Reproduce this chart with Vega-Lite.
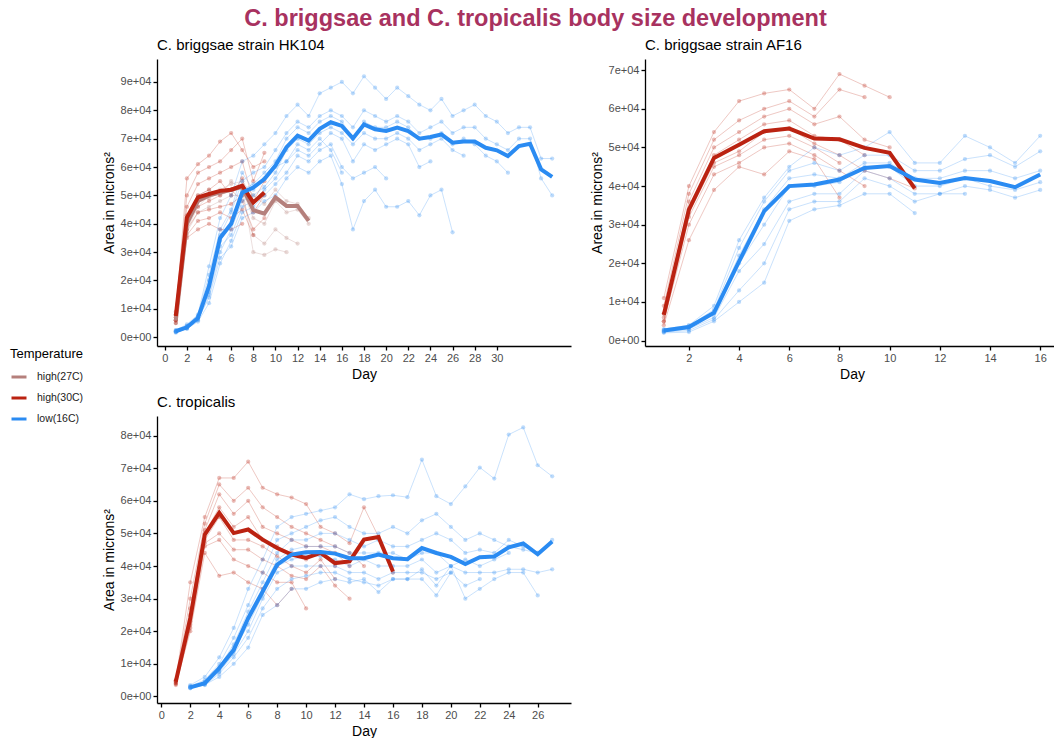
{
"$schema": "https://vega.github.io/schema/vega-lite/v6.json",
"padding": {"left": 10, "top": 6, "right": 0, "bottom": 5},
"title": {"text": "C. briggsae and C. tropicalis body size development", "anchor": "middle", "dx": 1, "fontSize": 23.5, "fontWeight": "bold", "color": "#A8325F", "font": "Liberation Sans", "offset": 8},
"config": {
  "font": "Liberation Sans",
  "view": {"stroke": null},
  "axis": {"grid": false, "domainColor": "#000", "domainWidth": 1.3, "tickColor": "#000", "tickWidth": 1.3, "tickSize": 4, "labelColor": "#4D4D4D", "labelFontSize": 11, "labelPadding": 2, "titleFontSize": 14, "titleFontWeight": "normal", "titleColor": "#000", "titlePadding": 4, "labelFont": "Liberation Sans", "titleFont": "Liberation Sans"},
  "legend": {"titleFontSize": 13, "titleFontWeight": "normal", "titleColor": "#000", "labelFontSize": 10.5, "labelColor": "#222", "titleFont": "Liberation Sans", "labelFont": "Liberation Sans"}
},
"datasets": {
"hk": [
{"g":27,"w":0,"d":1,"a":6},{"g":27,"w":0,"d":2,"a":40},{"g":27,"w":0,"d":3,"a":48},{"g":27,"w":0,"d":4,"a":50},{"g":27,"w":0,"d":5,"a":51},{"g":27,"w":0,"d":6,"a":52},{"g":27,"w":0,"d":7,"a":53},{"g":27,"w":0,"d":8,"a":44.8},{"g":27,"w":0,"d":9,"a":43.6},{"g":27,"w":0,"d":10,"a":49.3},{"g":27,"w":0,"d":11,"a":46.3},{"g":27,"w":0,"d":12,"a":46.3},{"g":27,"w":0,"d":13,"a":41},
{"g":30,"w":0,"d":1,"a":7.5},{"g":30,"w":0,"d":2,"a":42.2},{"g":30,"w":0,"d":3,"a":49.3},{"g":30,"w":0,"d":4,"a":50.5},{"g":30,"w":0,"d":5,"a":51.6},{"g":30,"w":0,"d":6,"a":52},{"g":30,"w":0,"d":7,"a":53.4},{"g":30,"w":0,"d":8,"a":47.5},{"g":30,"w":0,"d":9,"a":51},
{"g":16,"w":0,"d":1,"a":2.1},{"g":16,"w":0,"d":2,"a":3.5},{"g":16,"w":0,"d":3,"a":6.8},{"g":16,"w":0,"d":4,"a":18},{"g":16,"w":0,"d":5,"a":35},{"g":16,"w":0,"d":6,"a":40},{"g":16,"w":0,"d":7,"a":51},{"g":16,"w":0,"d":8,"a":52.8},{"g":16,"w":0,"d":9,"a":55.8},{"g":16,"w":0,"d":10,"a":60.5},{"g":16,"w":0,"d":11,"a":67},{"g":16,"w":0,"d":12,"a":71.1},{"g":16,"w":0,"d":13,"a":69.3},{"g":16,"w":0,"d":14,"a":73.5},{"g":16,"w":0,"d":15,"a":75.8},{"g":16,"w":0,"d":16,"a":74.5},{"g":16,"w":0,"d":17,"a":70.1},{"g":16,"w":0,"d":18,"a":75},{"g":16,"w":0,"d":19,"a":73.3},{"g":16,"w":0,"d":20,"a":72.7},{"g":16,"w":0,"d":21,"a":73.9},{"g":16,"w":0,"d":22,"a":72.7},{"g":16,"w":0,"d":23,"a":70},{"g":16,"w":0,"d":24,"a":70.6},{"g":16,"w":0,"d":25,"a":71.5},{"g":16,"w":0,"d":26,"a":68.6},{"g":16,"w":0,"d":27,"a":69},{"g":16,"w":0,"d":28,"a":69},{"g":16,"w":0,"d":29,"a":66.8},{"g":16,"w":0,"d":30,"a":65.9},{"g":16,"w":0,"d":31,"a":63.9},{"g":16,"w":0,"d":32,"a":67.4},{"g":16,"w":0,"d":33,"a":68.2},{"g":16,"w":0,"d":34,"a":59.2},{"g":16,"w":0,"d":35,"a":56.5},
{"g":27,"w":9,"d":1,"a":5},{"g":27,"w":9,"d":2,"a":38},{"g":27,"w":9,"d":3,"a":46},{"g":27,"w":9,"d":4,"a":50},{"g":27,"w":9,"d":5,"a":52},{"g":27,"w":9,"d":6,"a":54},{"g":27,"w":9,"d":7,"a":55},{"g":27,"w":9,"d":8,"a":50},{"g":27,"w":9,"d":9,"a":47},{"g":27,"w":9,"d":10,"a":52},{"g":27,"w":9,"d":11,"a":48},{"g":27,"w":9,"d":12,"a":47},{"g":27,"w":9,"d":13,"a":42},
{"g":27,"w":10,"d":1,"a":6},{"g":27,"w":10,"d":2,"a":42},{"g":27,"w":10,"d":3,"a":50},{"g":27,"w":10,"d":4,"a":52},{"g":27,"w":10,"d":5,"a":50},{"g":27,"w":10,"d":6,"a":55},{"g":27,"w":10,"d":7,"a":52},{"g":27,"w":10,"d":8,"a":42},{"g":27,"w":10,"d":9,"a":40},{"g":27,"w":10,"d":10,"a":48},{"g":27,"w":10,"d":11,"a":44},{"g":27,"w":10,"d":12,"a":45},{"g":27,"w":10,"d":13,"a":40},
{"g":27,"w":11,"d":1,"a":5},{"g":27,"w":11,"d":2,"a":37},{"g":27,"w":11,"d":3,"a":44},{"g":27,"w":11,"d":4,"a":46},{"g":27,"w":11,"d":5,"a":48},{"g":27,"w":11,"d":6,"a":50},{"g":27,"w":11,"d":7,"a":50},{"g":27,"w":11,"d":8,"a":36},{"g":27,"w":11,"d":9,"a":33},{"g":27,"w":11,"d":10,"a":38},{"g":27,"w":11,"d":11,"a":35},{"g":27,"w":11,"d":12,"a":33},
{"g":27,"w":12,"d":1,"a":6},{"g":27,"w":12,"d":2,"a":40},{"g":27,"w":12,"d":3,"a":48},{"g":27,"w":12,"d":4,"a":49},{"g":27,"w":12,"d":5,"a":51},{"g":27,"w":12,"d":6,"a":52},{"g":27,"w":12,"d":7,"a":53},{"g":27,"w":12,"d":8,"a":30},{"g":27,"w":12,"d":9,"a":29},{"g":27,"w":12,"d":10,"a":31},{"g":27,"w":12,"d":11,"a":30},
{"g":30,"w":1,"d":1,"a":8},{"g":30,"w":1,"d":2,"a":56},{"g":30,"w":1,"d":3,"a":61},{"g":30,"w":1,"d":4,"a":64},{"g":30,"w":1,"d":5,"a":69},{"g":30,"w":1,"d":6,"a":72},{"g":30,"w":1,"d":7,"a":66},{"g":30,"w":1,"d":8,"a":60},{"g":30,"w":1,"d":9,"a":62},
{"g":30,"w":2,"d":1,"a":9},{"g":30,"w":2,"d":2,"a":50},{"g":30,"w":2,"d":3,"a":58},{"g":30,"w":2,"d":4,"a":60},{"g":30,"w":2,"d":5,"a":62},{"g":30,"w":2,"d":6,"a":66},{"g":30,"w":2,"d":7,"a":70},{"g":30,"w":2,"d":8,"a":55},{"g":30,"w":2,"d":9,"a":65},
{"g":30,"w":3,"d":1,"a":7},{"g":30,"w":3,"d":2,"a":46},{"g":30,"w":3,"d":3,"a":54},{"g":30,"w":3,"d":4,"a":56},{"g":30,"w":3,"d":5,"a":58},{"g":30,"w":3,"d":6,"a":60},{"g":30,"w":3,"d":7,"a":62},{"g":30,"w":3,"d":8,"a":48},{"g":30,"w":3,"d":9,"a":55},
{"g":30,"w":4,"d":1,"a":6},{"g":30,"w":4,"d":2,"a":43},{"g":30,"w":4,"d":3,"a":50},{"g":30,"w":4,"d":4,"a":52},{"g":30,"w":4,"d":5,"a":55},{"g":30,"w":4,"d":6,"a":50},{"g":30,"w":4,"d":7,"a":56},{"g":30,"w":4,"d":8,"a":44},{"g":30,"w":4,"d":9,"a":50},
{"g":30,"w":5,"d":1,"a":8},{"g":30,"w":5,"d":2,"a":40},{"g":30,"w":5,"d":3,"a":46},{"g":30,"w":5,"d":4,"a":48},{"g":30,"w":5,"d":5,"a":50},{"g":30,"w":5,"d":6,"a":52},{"g":30,"w":5,"d":7,"a":48},{"g":30,"w":5,"d":8,"a":38},{"g":30,"w":5,"d":9,"a":42},
{"g":30,"w":6,"d":1,"a":5},{"g":30,"w":6,"d":2,"a":38},{"g":30,"w":6,"d":3,"a":44},{"g":30,"w":6,"d":4,"a":45},{"g":30,"w":6,"d":5,"a":46},{"g":30,"w":6,"d":6,"a":47},{"g":30,"w":6,"d":7,"a":50},
{"g":30,"w":7,"d":1,"a":7},{"g":30,"w":7,"d":2,"a":36},{"g":30,"w":7,"d":3,"a":41},{"g":30,"w":7,"d":4,"a":42},{"g":30,"w":7,"d":5,"a":44},{"g":30,"w":7,"d":6,"a":42},{"g":30,"w":7,"d":7,"a":45},{"g":30,"w":7,"d":8,"a":36},
{"g":30,"w":8,"d":1,"a":6},{"g":30,"w":8,"d":2,"a":35},{"g":30,"w":8,"d":3,"a":38},{"g":30,"w":8,"d":4,"a":40},{"g":30,"w":8,"d":5,"a":38},{"g":30,"w":8,"d":6,"a":38},{"g":30,"w":8,"d":7,"a":40},
{"g":16,"w":13,"d":1,"a":2.5},{"g":16,"w":13,"d":2,"a":4.5},{"g":16,"w":13,"d":3,"a":8},{"g":16,"w":13,"d":4,"a":25},{"g":16,"w":13,"d":5,"a":42},{"g":16,"w":13,"d":6,"a":50},{"g":16,"w":13,"d":7,"a":62},{"g":16,"w":13,"d":8,"a":64},{"g":16,"w":13,"d":9,"a":68},{"g":16,"w":13,"d":10,"a":72},{"g":16,"w":13,"d":11,"a":78},{"g":16,"w":13,"d":12,"a":82},{"g":16,"w":13,"d":13,"a":78},{"g":16,"w":13,"d":14,"a":86},{"g":16,"w":13,"d":15,"a":88},{"g":16,"w":13,"d":16,"a":90},{"g":16,"w":13,"d":17,"a":86},{"g":16,"w":13,"d":18,"a":92},{"g":16,"w":13,"d":19,"a":88},{"g":16,"w":13,"d":20,"a":84},{"g":16,"w":13,"d":21,"a":88},{"g":16,"w":13,"d":22,"a":85},{"g":16,"w":13,"d":23,"a":82},{"g":16,"w":13,"d":24,"a":80},{"g":16,"w":13,"d":25,"a":84},{"g":16,"w":13,"d":26,"a":78},{"g":16,"w":13,"d":27,"a":80},{"g":16,"w":13,"d":28,"a":82},{"g":16,"w":13,"d":29,"a":78},{"g":16,"w":13,"d":30,"a":76},{"g":16,"w":13,"d":31,"a":72},{"g":16,"w":13,"d":32,"a":74},{"g":16,"w":13,"d":33,"a":74},{"g":16,"w":13,"d":34,"a":63},{"g":16,"w":13,"d":35,"a":63},
{"g":16,"w":14,"d":1,"a":2},{"g":16,"w":14,"d":2,"a":3.5},{"g":16,"w":14,"d":3,"a":7},{"g":16,"w":14,"d":4,"a":20},{"g":16,"w":14,"d":5,"a":36},{"g":16,"w":14,"d":6,"a":44},{"g":16,"w":14,"d":7,"a":55},{"g":16,"w":14,"d":8,"a":58},{"g":16,"w":14,"d":9,"a":60},{"g":16,"w":14,"d":10,"a":66},{"g":16,"w":14,"d":11,"a":72},{"g":16,"w":14,"d":12,"a":76},{"g":16,"w":14,"d":13,"a":74},{"g":16,"w":14,"d":14,"a":78},{"g":16,"w":14,"d":15,"a":80},{"g":16,"w":14,"d":16,"a":78},{"g":16,"w":14,"d":17,"a":74},{"g":16,"w":14,"d":18,"a":80},{"g":16,"w":14,"d":19,"a":78},{"g":16,"w":14,"d":20,"a":76},{"g":16,"w":14,"d":21,"a":78},{"g":16,"w":14,"d":22,"a":76},{"g":16,"w":14,"d":23,"a":72},{"g":16,"w":14,"d":24,"a":74},{"g":16,"w":14,"d":25,"a":76},{"g":16,"w":14,"d":26,"a":72},{"g":16,"w":14,"d":27,"a":74},{"g":16,"w":14,"d":28,"a":74},{"g":16,"w":14,"d":29,"a":70},{"g":16,"w":14,"d":30,"a":68},{"g":16,"w":14,"d":31,"a":66},{"g":16,"w":14,"d":32,"a":70},{"g":16,"w":14,"d":33,"a":70},{"g":16,"w":14,"d":34,"a":56},{"g":16,"w":14,"d":35,"a":50},
{"g":16,"w":15,"d":1,"a":2.2},{"g":16,"w":15,"d":2,"a":3.8},{"g":16,"w":15,"d":3,"a":7},{"g":16,"w":15,"d":4,"a":18},{"g":16,"w":15,"d":5,"a":34},{"g":16,"w":15,"d":6,"a":40},{"g":16,"w":15,"d":7,"a":52},{"g":16,"w":15,"d":8,"a":54},{"g":16,"w":15,"d":9,"a":58},{"g":16,"w":15,"d":10,"a":62},{"g":16,"w":15,"d":11,"a":70},{"g":16,"w":15,"d":12,"a":74},{"g":16,"w":15,"d":13,"a":72},{"g":16,"w":15,"d":14,"a":76},{"g":16,"w":15,"d":15,"a":78},{"g":16,"w":15,"d":16,"a":76},{"g":16,"w":15,"d":17,"a":70},{"g":16,"w":15,"d":18,"a":76},{"g":16,"w":15,"d":19,"a":74},{"g":16,"w":15,"d":20,"a":74},{"g":16,"w":15,"d":21,"a":76},{"g":16,"w":15,"d":22,"a":74},{"g":16,"w":15,"d":23,"a":70},{"g":16,"w":15,"d":24,"a":70},{"g":16,"w":15,"d":25,"a":72},{"g":16,"w":15,"d":26,"a":68},{"g":16,"w":15,"d":27,"a":70},{"g":16,"w":15,"d":28,"a":68},{"g":16,"w":15,"d":29,"a":64},{"g":16,"w":15,"d":30,"a":62},{"g":16,"w":15,"d":31,"a":58},
{"g":16,"w":16,"d":1,"a":1.8},{"g":16,"w":16,"d":2,"a":3},{"g":16,"w":16,"d":3,"a":6},{"g":16,"w":16,"d":4,"a":15},{"g":16,"w":16,"d":5,"a":30},{"g":16,"w":16,"d":6,"a":38},{"g":16,"w":16,"d":7,"a":48},{"g":16,"w":16,"d":8,"a":50},{"g":16,"w":16,"d":9,"a":53},{"g":16,"w":16,"d":10,"a":58},{"g":16,"w":16,"d":11,"a":66},{"g":16,"w":16,"d":12,"a":70},{"g":16,"w":16,"d":13,"a":68},{"g":16,"w":16,"d":14,"a":72},{"g":16,"w":16,"d":15,"a":74},{"g":16,"w":16,"d":16,"a":72},{"g":16,"w":16,"d":17,"a":68},{"g":16,"w":16,"d":18,"a":72},{"g":16,"w":16,"d":19,"a":70},{"g":16,"w":16,"d":20,"a":70},{"g":16,"w":16,"d":21,"a":72},{"g":16,"w":16,"d":22,"a":70},{"g":16,"w":16,"d":23,"a":66},{"g":16,"w":16,"d":24,"a":68},{"g":16,"w":16,"d":25,"a":70},{"g":16,"w":16,"d":26,"a":66},{"g":16,"w":16,"d":27,"a":64},
{"g":16,"w":17,"d":1,"a":2},{"g":16,"w":17,"d":2,"a":3.2},{"g":16,"w":17,"d":3,"a":6.5},{"g":16,"w":17,"d":4,"a":16},{"g":16,"w":17,"d":5,"a":32},{"g":16,"w":17,"d":6,"a":36},{"g":16,"w":17,"d":7,"a":46},{"g":16,"w":17,"d":8,"a":48},{"g":16,"w":17,"d":9,"a":52},{"g":16,"w":17,"d":10,"a":56},{"g":16,"w":17,"d":11,"a":62},{"g":16,"w":17,"d":12,"a":66},{"g":16,"w":17,"d":13,"a":64},{"g":16,"w":17,"d":14,"a":68},{"g":16,"w":17,"d":15,"a":72},{"g":16,"w":17,"d":16,"a":70},{"g":16,"w":17,"d":17,"a":62},{"g":16,"w":17,"d":18,"a":68},{"g":16,"w":17,"d":19,"a":66},{"g":16,"w":17,"d":20,"a":68},{"g":16,"w":17,"d":21,"a":70},{"g":16,"w":17,"d":22,"a":68},{"g":16,"w":17,"d":23,"a":60},{"g":16,"w":17,"d":24,"a":62},
{"g":16,"w":18,"d":1,"a":1.6},{"g":16,"w":18,"d":2,"a":3},{"g":16,"w":18,"d":3,"a":5.5},{"g":16,"w":18,"d":4,"a":12},{"g":16,"w":18,"d":5,"a":26},{"g":16,"w":18,"d":6,"a":34},{"g":16,"w":18,"d":7,"a":44},{"g":16,"w":18,"d":8,"a":46},{"g":16,"w":18,"d":9,"a":50},{"g":16,"w":18,"d":10,"a":54},{"g":16,"w":18,"d":11,"a":58},{"g":16,"w":18,"d":12,"a":64},{"g":16,"w":18,"d":13,"a":62},{"g":16,"w":18,"d":14,"a":66},{"g":16,"w":18,"d":15,"a":68},{"g":16,"w":18,"d":16,"a":60},{"g":16,"w":18,"d":17,"a":56},{"g":16,"w":18,"d":18,"a":58},{"g":16,"w":18,"d":19,"a":60},{"g":16,"w":18,"d":20,"a":56},
{"g":16,"w":19,"d":1,"a":2.4},{"g":16,"w":19,"d":2,"a":4},{"g":16,"w":19,"d":3,"a":7.5},{"g":16,"w":19,"d":4,"a":22},{"g":16,"w":19,"d":5,"a":38},{"g":16,"w":19,"d":6,"a":45},{"g":16,"w":19,"d":7,"a":58},{"g":16,"w":19,"d":8,"a":52},{"g":16,"w":19,"d":9,"a":56},{"g":16,"w":19,"d":10,"a":60},{"g":16,"w":19,"d":11,"a":62},{"g":16,"w":19,"d":12,"a":68},{"g":16,"w":19,"d":13,"a":66},{"g":16,"w":19,"d":14,"a":70},{"g":16,"w":19,"d":15,"a":66},{"g":16,"w":19,"d":16,"a":58},
{"g":16,"w":20,"d":1,"a":1.9},{"g":16,"w":20,"d":2,"a":3.3},{"g":16,"w":20,"d":3,"a":6.2},{"g":16,"w":20,"d":4,"a":14},{"g":16,"w":20,"d":5,"a":28},{"g":16,"w":20,"d":6,"a":32},{"g":16,"w":20,"d":7,"a":42},{"g":16,"w":20,"d":8,"a":44},{"g":16,"w":20,"d":9,"a":48},{"g":16,"w":20,"d":10,"a":50},{"g":16,"w":20,"d":11,"a":56},{"g":16,"w":20,"d":12,"a":60},{"g":16,"w":20,"d":13,"a":58},{"g":16,"w":20,"d":14,"a":62},{"g":16,"w":20,"d":15,"a":64},{"g":16,"w":20,"d":16,"a":54},{"g":16,"w":20,"d":17,"a":38},{"g":16,"w":20,"d":18,"a":48},{"g":16,"w":20,"d":19,"a":52},{"g":16,"w":20,"d":20,"a":46},{"g":16,"w":20,"d":21,"a":46},{"g":16,"w":20,"d":22,"a":48},{"g":16,"w":20,"d":23,"a":43},{"g":16,"w":20,"d":24,"a":50},{"g":16,"w":20,"d":25,"a":52},{"g":16,"w":20,"d":26,"a":37}
],
"af": [
{"g":30,"w":0,"d":1,"a":6.7},{"g":30,"w":0,"d":2,"a":33.9},{"g":30,"w":0,"d":3,"a":47.3},{"g":30,"w":0,"d":4,"a":50.7},{"g":30,"w":0,"d":5,"a":54.2},{"g":30,"w":0,"d":6,"a":54.9},{"g":30,"w":0,"d":7,"a":52.3},{"g":30,"w":0,"d":8,"a":52.1},{"g":30,"w":0,"d":9,"a":49.9},{"g":30,"w":0,"d":10,"a":48.6},{"g":30,"w":0,"d":11,"a":39.4},
{"g":16,"w":0,"d":1,"a":2.6},{"g":16,"w":0,"d":2,"a":3.5},{"g":16,"w":0,"d":3,"a":7.2},{"g":16,"w":0,"d":4,"a":20.5},{"g":16,"w":0,"d":5,"a":33.5},{"g":16,"w":0,"d":6,"a":40},{"g":16,"w":0,"d":7,"a":40.4},{"g":16,"w":0,"d":8,"a":41.7},{"g":16,"w":0,"d":9,"a":44.7},{"g":16,"w":0,"d":10,"a":45.2},{"g":16,"w":0,"d":11,"a":41.7},{"g":16,"w":0,"d":12,"a":40.8},{"g":16,"w":0,"d":13,"a":42.1},{"g":16,"w":0,"d":14,"a":41.3},{"g":16,"w":0,"d":15,"a":39.7},{"g":16,"w":0,"d":16,"a":43},
{"g":30,"w":1,"d":1,"a":11},{"g":30,"w":1,"d":2,"a":40},{"g":30,"w":1,"d":3,"a":54},{"g":30,"w":1,"d":4,"a":62},{"g":30,"w":1,"d":5,"a":64},{"g":30,"w":1,"d":6,"a":65},{"g":30,"w":1,"d":7,"a":60},{"g":30,"w":1,"d":8,"a":69},{"g":30,"w":1,"d":9,"a":66},{"g":30,"w":1,"d":10,"a":63},
{"g":30,"w":2,"d":1,"a":9},{"g":30,"w":2,"d":2,"a":38},{"g":30,"w":2,"d":3,"a":52},{"g":30,"w":2,"d":4,"a":57},{"g":30,"w":2,"d":5,"a":60},{"g":30,"w":2,"d":6,"a":62},{"g":30,"w":2,"d":7,"a":58},{"g":30,"w":2,"d":8,"a":65},{"g":30,"w":2,"d":9,"a":63},
{"g":30,"w":3,"d":1,"a":7},{"g":30,"w":3,"d":2,"a":36},{"g":30,"w":3,"d":3,"a":50},{"g":30,"w":3,"d":4,"a":54},{"g":30,"w":3,"d":5,"a":58},{"g":30,"w":3,"d":6,"a":60},{"g":30,"w":3,"d":7,"a":56},{"g":30,"w":3,"d":8,"a":58},{"g":30,"w":3,"d":9,"a":52},{"g":30,"w":3,"d":10,"a":50},
{"g":30,"w":4,"d":1,"a":6},{"g":30,"w":4,"d":2,"a":34},{"g":30,"w":4,"d":3,"a":48},{"g":30,"w":4,"d":4,"a":52},{"g":30,"w":4,"d":5,"a":56},{"g":30,"w":4,"d":6,"a":57},{"g":30,"w":4,"d":7,"a":53},{"g":30,"w":4,"d":8,"a":52},{"g":30,"w":4,"d":9,"a":48},
{"g":30,"w":5,"d":1,"a":7},{"g":30,"w":5,"d":2,"a":33},{"g":30,"w":5,"d":3,"a":46},{"g":30,"w":5,"d":4,"a":49},{"g":30,"w":5,"d":5,"a":54},{"g":30,"w":5,"d":6,"a":55},{"g":30,"w":5,"d":7,"a":51},{"g":30,"w":5,"d":8,"a":48},{"g":30,"w":5,"d":9,"a":44},{"g":30,"w":5,"d":10,"a":42},{"g":30,"w":5,"d":11,"a":39.4},
{"g":30,"w":6,"d":1,"a":5},{"g":30,"w":6,"d":2,"a":32},{"g":30,"w":6,"d":3,"a":45},{"g":30,"w":6,"d":4,"a":48},{"g":30,"w":6,"d":5,"a":52},{"g":30,"w":6,"d":6,"a":53},{"g":30,"w":6,"d":7,"a":50},{"g":30,"w":6,"d":8,"a":46},
{"g":30,"w":7,"d":1,"a":5},{"g":30,"w":7,"d":2,"a":30},{"g":30,"w":7,"d":3,"a":43},{"g":30,"w":7,"d":4,"a":46},{"g":30,"w":7,"d":5,"a":50},{"g":30,"w":7,"d":6,"a":51},{"g":30,"w":7,"d":7,"a":48},{"g":30,"w":7,"d":8,"a":44},{"g":30,"w":7,"d":9,"a":40},
{"g":30,"w":8,"d":1,"a":4},{"g":30,"w":8,"d":2,"a":26},{"g":30,"w":8,"d":3,"a":39},{"g":30,"w":8,"d":4,"a":45},{"g":30,"w":8,"d":5,"a":43},{"g":30,"w":8,"d":6,"a":49},{"g":30,"w":8,"d":7,"a":47},{"g":30,"w":8,"d":8,"a":37},
{"g":16,"w":9,"d":1,"a":3},{"g":16,"w":9,"d":2,"a":4},{"g":16,"w":9,"d":3,"a":9},{"g":16,"w":9,"d":4,"a":26},{"g":16,"w":9,"d":5,"a":37},{"g":16,"w":9,"d":6,"a":45},{"g":16,"w":9,"d":7,"a":50},{"g":16,"w":9,"d":8,"a":48},{"g":16,"w":9,"d":9,"a":50},{"g":16,"w":9,"d":10,"a":54},{"g":16,"w":9,"d":11,"a":46},{"g":16,"w":9,"d":12,"a":46},{"g":16,"w":9,"d":13,"a":53},{"g":16,"w":9,"d":14,"a":50},{"g":16,"w":9,"d":15,"a":46},{"g":16,"w":9,"d":16,"a":53},
{"g":16,"w":10,"d":1,"a":2.8},{"g":16,"w":10,"d":2,"a":3.8},{"g":16,"w":10,"d":3,"a":8},{"g":16,"w":10,"d":4,"a":24},{"g":16,"w":10,"d":5,"a":36},{"g":16,"w":10,"d":6,"a":44},{"g":16,"w":10,"d":7,"a":46},{"g":16,"w":10,"d":8,"a":44},{"g":16,"w":10,"d":9,"a":48},{"g":16,"w":10,"d":10,"a":48},{"g":16,"w":10,"d":11,"a":44},{"g":16,"w":10,"d":12,"a":44},{"g":16,"w":10,"d":13,"a":47},{"g":16,"w":10,"d":14,"a":48},{"g":16,"w":10,"d":15,"a":45},{"g":16,"w":10,"d":16,"a":49},
{"g":16,"w":11,"d":1,"a":2.6},{"g":16,"w":11,"d":2,"a":3.5},{"g":16,"w":11,"d":3,"a":7.5},{"g":16,"w":11,"d":4,"a":22},{"g":16,"w":11,"d":5,"a":34},{"g":16,"w":11,"d":6,"a":42},{"g":16,"w":11,"d":7,"a":43},{"g":16,"w":11,"d":8,"a":42},{"g":16,"w":11,"d":9,"a":46},{"g":16,"w":11,"d":10,"a":46},{"g":16,"w":11,"d":11,"a":42},{"g":16,"w":11,"d":12,"a":42},{"g":16,"w":11,"d":13,"a":44},{"g":16,"w":11,"d":14,"a":44},{"g":16,"w":11,"d":15,"a":42},{"g":16,"w":11,"d":16,"a":44},
{"g":16,"w":12,"d":1,"a":2.5},{"g":16,"w":12,"d":2,"a":3.2},{"g":16,"w":12,"d":3,"a":7},{"g":16,"w":12,"d":4,"a":20},{"g":16,"w":12,"d":5,"a":30},{"g":16,"w":12,"d":6,"a":40},{"g":16,"w":12,"d":7,"a":40},{"g":16,"w":12,"d":8,"a":41},{"g":16,"w":12,"d":9,"a":45},{"g":16,"w":12,"d":10,"a":45},{"g":16,"w":12,"d":11,"a":40},{"g":16,"w":12,"d":12,"a":40},{"g":16,"w":12,"d":13,"a":42},{"g":16,"w":12,"d":14,"a":40},{"g":16,"w":12,"d":15,"a":39},{"g":16,"w":12,"d":16,"a":41},
{"g":16,"w":13,"d":1,"a":2.3},{"g":16,"w":13,"d":2,"a":3},{"g":16,"w":13,"d":3,"a":6},{"g":16,"w":13,"d":4,"a":18},{"g":16,"w":13,"d":5,"a":25},{"g":16,"w":13,"d":6,"a":36},{"g":16,"w":13,"d":7,"a":38},{"g":16,"w":13,"d":8,"a":38},{"g":16,"w":13,"d":9,"a":44},{"g":16,"w":13,"d":10,"a":42},{"g":16,"w":13,"d":11,"a":38},{"g":16,"w":13,"d":12,"a":38},{"g":16,"w":13,"d":13,"a":40},{"g":16,"w":13,"d":14,"a":39},{"g":16,"w":13,"d":15,"a":37},{"g":16,"w":13,"d":16,"a":39},
{"g":16,"w":14,"d":1,"a":2.2},{"g":16,"w":14,"d":2,"a":2.6},{"g":16,"w":14,"d":3,"a":5.5},{"g":16,"w":14,"d":4,"a":13},{"g":16,"w":14,"d":5,"a":20},{"g":16,"w":14,"d":6,"a":34},{"g":16,"w":14,"d":7,"a":36},{"g":16,"w":14,"d":8,"a":36},{"g":16,"w":14,"d":9,"a":42},{"g":16,"w":14,"d":10,"a":40},{"g":16,"w":14,"d":11,"a":36},{"g":16,"w":14,"d":12,"a":38},{"g":16,"w":14,"d":13,"a":38},
{"g":16,"w":15,"d":1,"a":2},{"g":16,"w":15,"d":2,"a":2.2},{"g":16,"w":15,"d":3,"a":5},{"g":16,"w":15,"d":4,"a":10},{"g":16,"w":15,"d":5,"a":15},{"g":16,"w":15,"d":6,"a":31},{"g":16,"w":15,"d":7,"a":34},{"g":16,"w":15,"d":8,"a":35},{"g":16,"w":15,"d":9,"a":38},{"g":16,"w":15,"d":10,"a":38},{"g":16,"w":15,"d":11,"a":33}
],
"tr": [
{"g":30,"w":0,"d":1,"a":4.6},{"g":30,"w":0,"d":2,"a":24},{"g":30,"w":0,"d":3,"a":49.6},{"g":30,"w":0,"d":4,"a":56.3},{"g":30,"w":0,"d":5,"a":50.1},{"g":30,"w":0,"d":6,"a":51.2},{"g":30,"w":0,"d":7,"a":48.1},{"g":30,"w":0,"d":8,"a":45.5},{"g":30,"w":0,"d":9,"a":43.5},{"g":30,"w":0,"d":10,"a":42.5},{"g":30,"w":0,"d":11,"a":44},{"g":30,"w":0,"d":12,"a":40.9},{"g":30,"w":0,"d":13,"a":41.4},{"g":30,"w":0,"d":14,"a":48.1},{"g":30,"w":0,"d":15,"a":48.9},{"g":30,"w":0,"d":16,"a":38.3},
{"g":16,"w":0,"d":2,"a":2.8},{"g":16,"w":0,"d":3,"a":4.1},{"g":16,"w":0,"d":4,"a":8.7},{"g":16,"w":0,"d":5,"a":14.3},{"g":16,"w":0,"d":6,"a":24},{"g":16,"w":0,"d":7,"a":32.2},{"g":16,"w":0,"d":8,"a":40.4},{"g":16,"w":0,"d":9,"a":43.5},{"g":16,"w":0,"d":10,"a":44.2},{"g":16,"w":0,"d":11,"a":44.3},{"g":16,"w":0,"d":12,"a":43.8},{"g":16,"w":0,"d":13,"a":42.4},{"g":16,"w":0,"d":14,"a":42.4},{"g":16,"w":0,"d":15,"a":43.5},{"g":16,"w":0,"d":16,"a":42.4},{"g":16,"w":0,"d":17,"a":42.1},{"g":16,"w":0,"d":18,"a":45.5},{"g":16,"w":0,"d":19,"a":44},{"g":16,"w":0,"d":20,"a":42.8},{"g":16,"w":0,"d":21,"a":40.6},{"g":16,"w":0,"d":22,"a":42.7},{"g":16,"w":0,"d":23,"a":42.9},{"g":16,"w":0,"d":24,"a":45.7},{"g":16,"w":0,"d":25,"a":46.9},{"g":16,"w":0,"d":26,"a":43.6},{"g":16,"w":0,"d":27,"a":47.5},
{"g":30,"w":1,"d":1,"a":5},{"g":30,"w":1,"d":2,"a":35},{"g":30,"w":1,"d":3,"a":55},{"g":30,"w":1,"d":4,"a":67},{"g":30,"w":1,"d":5,"a":67},{"g":30,"w":1,"d":6,"a":72},{"g":30,"w":1,"d":7,"a":64},{"g":30,"w":1,"d":8,"a":62},{"g":30,"w":1,"d":9,"a":61},{"g":30,"w":1,"d":10,"a":59},{"g":30,"w":1,"d":11,"a":52},{"g":30,"w":1,"d":12,"a":50},{"g":30,"w":1,"d":13,"a":47},{"g":30,"w":1,"d":14,"a":58},{"g":30,"w":1,"d":15,"a":49},{"g":30,"w":1,"d":16,"a":38},
{"g":30,"w":2,"d":1,"a":4.8},{"g":30,"w":2,"d":2,"a":30},{"g":30,"w":2,"d":3,"a":53},{"g":30,"w":2,"d":4,"a":65},{"g":30,"w":2,"d":5,"a":60},{"g":30,"w":2,"d":6,"a":64},{"g":30,"w":2,"d":7,"a":58},{"g":30,"w":2,"d":8,"a":55},{"g":30,"w":2,"d":9,"a":52},{"g":30,"w":2,"d":10,"a":50},{"g":30,"w":2,"d":11,"a":48},{"g":30,"w":2,"d":12,"a":46},{"g":30,"w":2,"d":13,"a":44},{"g":30,"w":2,"d":14,"a":40},
{"g":30,"w":3,"d":1,"a":4.5},{"g":30,"w":3,"d":2,"a":27},{"g":30,"w":3,"d":3,"a":51},{"g":30,"w":3,"d":4,"a":62},{"g":30,"w":3,"d":5,"a":56},{"g":30,"w":3,"d":6,"a":60},{"g":30,"w":3,"d":7,"a":52},{"g":30,"w":3,"d":8,"a":50},{"g":30,"w":3,"d":9,"a":48},{"g":30,"w":3,"d":10,"a":46},{"g":30,"w":3,"d":11,"a":46},{"g":30,"w":3,"d":12,"a":44},{"g":30,"w":3,"d":13,"a":40},
{"g":30,"w":4,"d":1,"a":4.2},{"g":30,"w":4,"d":2,"a":25},{"g":30,"w":4,"d":3,"a":50},{"g":30,"w":4,"d":4,"a":58},{"g":30,"w":4,"d":5,"a":52},{"g":30,"w":4,"d":6,"a":55},{"g":30,"w":4,"d":7,"a":48},{"g":30,"w":4,"d":8,"a":46},{"g":30,"w":4,"d":9,"a":44},{"g":30,"w":4,"d":10,"a":42},{"g":30,"w":4,"d":11,"a":44},{"g":30,"w":4,"d":12,"a":40},
{"g":30,"w":5,"d":1,"a":4.6},{"g":30,"w":5,"d":2,"a":23},{"g":30,"w":5,"d":3,"a":48},{"g":30,"w":5,"d":4,"a":55},{"g":30,"w":5,"d":5,"a":48},{"g":30,"w":5,"d":6,"a":48},{"g":30,"w":5,"d":7,"a":46},{"g":30,"w":5,"d":8,"a":43},{"g":30,"w":5,"d":9,"a":40},{"g":30,"w":5,"d":10,"a":38},{"g":30,"w":5,"d":11,"a":42},{"g":30,"w":5,"d":12,"a":36},
{"g":30,"w":6,"d":1,"a":4},{"g":30,"w":6,"d":2,"a":22},{"g":30,"w":6,"d":3,"a":47},{"g":30,"w":6,"d":4,"a":50},{"g":30,"w":6,"d":5,"a":45},{"g":30,"w":6,"d":6,"a":45},{"g":30,"w":6,"d":7,"a":42},{"g":30,"w":6,"d":8,"a":40},{"g":30,"w":6,"d":9,"a":37},{"g":30,"w":6,"d":10,"a":36},{"g":30,"w":6,"d":11,"a":40},{"g":30,"w":6,"d":12,"a":34},{"g":30,"w":6,"d":13,"a":30},
{"g":30,"w":7,"d":1,"a":3.8},{"g":30,"w":7,"d":2,"a":21},{"g":30,"w":7,"d":3,"a":46},{"g":30,"w":7,"d":4,"a":48},{"g":30,"w":7,"d":5,"a":42},{"g":30,"w":7,"d":6,"a":40},{"g":30,"w":7,"d":7,"a":38},{"g":30,"w":7,"d":8,"a":35},{"g":30,"w":7,"d":9,"a":35},{"g":30,"w":7,"d":10,"a":27},
{"g":30,"w":8,"d":1,"a":3.5},{"g":30,"w":8,"d":2,"a":20},{"g":30,"w":8,"d":3,"a":44},{"g":30,"w":8,"d":4,"a":37},{"g":30,"w":8,"d":5,"a":38},{"g":30,"w":8,"d":6,"a":35},{"g":30,"w":8,"d":7,"a":33},{"g":30,"w":8,"d":8,"a":28},{"g":30,"w":8,"d":9,"a":33},
{"g":16,"w":9,"d":2,"a":3.5},{"g":16,"w":9,"d":3,"a":6},{"g":16,"w":9,"d":4,"a":12},{"g":16,"w":9,"d":5,"a":21},{"g":16,"w":9,"d":6,"a":33},{"g":16,"w":9,"d":7,"a":42},{"g":16,"w":9,"d":8,"a":52},{"g":16,"w":9,"d":9,"a":55},{"g":16,"w":9,"d":10,"a":56},{"g":16,"w":9,"d":11,"a":57},{"g":16,"w":9,"d":12,"a":58},{"g":16,"w":9,"d":13,"a":62},{"g":16,"w":9,"d":14,"a":60.5},{"g":16,"w":9,"d":15,"a":61.4},{"g":16,"w":9,"d":16,"a":61.7},{"g":16,"w":9,"d":17,"a":61.1},{"g":16,"w":9,"d":18,"a":72.6},{"g":16,"w":9,"d":19,"a":61.4},{"g":16,"w":9,"d":20,"a":59},{"g":16,"w":9,"d":21,"a":64.4},{"g":16,"w":9,"d":22,"a":70.2},{"g":16,"w":9,"d":23,"a":66.8},{"g":16,"w":9,"d":24,"a":80.3},{"g":16,"w":9,"d":25,"a":82.5},{"g":16,"w":9,"d":26,"a":70.9},{"g":16,"w":9,"d":27,"a":67.5},
{"g":16,"w":10,"d":2,"a":3.2},{"g":16,"w":10,"d":3,"a":5},{"g":16,"w":10,"d":4,"a":10},{"g":16,"w":10,"d":5,"a":18},{"g":16,"w":10,"d":6,"a":28},{"g":16,"w":10,"d":7,"a":38},{"g":16,"w":10,"d":8,"a":48},{"g":16,"w":10,"d":9,"a":50},{"g":16,"w":10,"d":10,"a":52},{"g":16,"w":10,"d":11,"a":54},{"g":16,"w":10,"d":12,"a":55},{"g":16,"w":10,"d":13,"a":52},{"g":16,"w":10,"d":14,"a":50},{"g":16,"w":10,"d":15,"a":50},{"g":16,"w":10,"d":16,"a":52},{"g":16,"w":10,"d":17,"a":50},{"g":16,"w":10,"d":18,"a":54},{"g":16,"w":10,"d":19,"a":56},{"g":16,"w":10,"d":20,"a":52},{"g":16,"w":10,"d":21,"a":48},{"g":16,"w":10,"d":22,"a":50},{"g":16,"w":10,"d":23,"a":48},{"g":16,"w":10,"d":24,"a":46},{"g":16,"w":10,"d":25,"a":45},{"g":16,"w":10,"d":26,"a":44},{"g":16,"w":10,"d":27,"a":48},
{"g":16,"w":11,"d":2,"a":3},{"g":16,"w":11,"d":3,"a":4.5},{"g":16,"w":11,"d":4,"a":9},{"g":16,"w":11,"d":5,"a":16},{"g":16,"w":11,"d":6,"a":26},{"g":16,"w":11,"d":7,"a":35},{"g":16,"w":11,"d":8,"a":44},{"g":16,"w":11,"d":9,"a":48},{"g":16,"w":11,"d":10,"a":48},{"g":16,"w":11,"d":11,"a":50},{"g":16,"w":11,"d":12,"a":50},{"g":16,"w":11,"d":13,"a":48},{"g":16,"w":11,"d":14,"a":46},{"g":16,"w":11,"d":15,"a":48},{"g":16,"w":11,"d":16,"a":46},{"g":16,"w":11,"d":17,"a":46},{"g":16,"w":11,"d":18,"a":48},{"g":16,"w":11,"d":19,"a":50},{"g":16,"w":11,"d":20,"a":48},{"g":16,"w":11,"d":21,"a":44},{"g":16,"w":11,"d":22,"a":45},{"g":16,"w":11,"d":23,"a":44},{"g":16,"w":11,"d":24,"a":48},{"g":16,"w":11,"d":25,"a":46},{"g":16,"w":11,"d":26,"a":44},
{"g":16,"w":12,"d":2,"a":2.9},{"g":16,"w":12,"d":3,"a":4.2},{"g":16,"w":12,"d":4,"a":8.5},{"g":16,"w":12,"d":5,"a":15},{"g":16,"w":12,"d":6,"a":24},{"g":16,"w":12,"d":7,"a":33},{"g":16,"w":12,"d":8,"a":42},{"g":16,"w":12,"d":9,"a":45},{"g":16,"w":12,"d":10,"a":46},{"g":16,"w":12,"d":11,"a":46},{"g":16,"w":12,"d":12,"a":46},{"g":16,"w":12,"d":13,"a":44},{"g":16,"w":12,"d":14,"a":44},{"g":16,"w":12,"d":15,"a":44},{"g":16,"w":12,"d":16,"a":44},{"g":16,"w":12,"d":17,"a":42},{"g":16,"w":12,"d":18,"a":44},{"g":16,"w":12,"d":19,"a":44},{"g":16,"w":12,"d":20,"a":40},{"g":16,"w":12,"d":21,"a":42},{"g":16,"w":12,"d":22,"a":40},{"g":16,"w":12,"d":23,"a":42},{"g":16,"w":12,"d":24,"a":44},
{"g":16,"w":13,"d":2,"a":2.8},{"g":16,"w":13,"d":3,"a":4},{"g":16,"w":13,"d":4,"a":8},{"g":16,"w":13,"d":5,"a":14},{"g":16,"w":13,"d":6,"a":22},{"g":16,"w":13,"d":7,"a":31},{"g":16,"w":13,"d":8,"a":40},{"g":16,"w":13,"d":9,"a":42},{"g":16,"w":13,"d":10,"a":43},{"g":16,"w":13,"d":11,"a":43},{"g":16,"w":13,"d":12,"a":42},{"g":16,"w":13,"d":13,"a":40},{"g":16,"w":13,"d":14,"a":42},{"g":16,"w":13,"d":15,"a":40},{"g":16,"w":13,"d":16,"a":40},{"g":16,"w":13,"d":17,"a":40},{"g":16,"w":13,"d":18,"a":42},{"g":16,"w":13,"d":19,"a":38},{"g":16,"w":13,"d":20,"a":40},{"g":16,"w":13,"d":21,"a":38},{"g":16,"w":13,"d":22,"a":38},{"g":16,"w":13,"d":23,"a":38},{"g":16,"w":13,"d":24,"a":39},{"g":16,"w":13,"d":25,"a":39},{"g":16,"w":13,"d":26,"a":38},{"g":16,"w":13,"d":27,"a":39},
{"g":16,"w":14,"d":2,"a":2.7},{"g":16,"w":14,"d":3,"a":3.8},{"g":16,"w":14,"d":4,"a":7.5},{"g":16,"w":14,"d":5,"a":13},{"g":16,"w":14,"d":6,"a":20},{"g":16,"w":14,"d":7,"a":30},{"g":16,"w":14,"d":8,"a":38},{"g":16,"w":14,"d":9,"a":40},{"g":16,"w":14,"d":10,"a":40},{"g":16,"w":14,"d":11,"a":40},{"g":16,"w":14,"d":12,"a":40},{"g":16,"w":14,"d":13,"a":38},{"g":16,"w":14,"d":14,"a":38},{"g":16,"w":14,"d":15,"a":36},{"g":16,"w":14,"d":16,"a":38},{"g":16,"w":14,"d":17,"a":38},{"g":16,"w":14,"d":18,"a":38},{"g":16,"w":14,"d":19,"a":36},{"g":16,"w":14,"d":20,"a":38},{"g":16,"w":14,"d":21,"a":34},{"g":16,"w":14,"d":22,"a":36},
{"g":16,"w":15,"d":2,"a":2.5},{"g":16,"w":15,"d":3,"a":3.5},{"g":16,"w":15,"d":4,"a":7},{"g":16,"w":15,"d":5,"a":12},{"g":16,"w":15,"d":6,"a":18},{"g":16,"w":15,"d":7,"a":27},{"g":16,"w":15,"d":8,"a":33},{"g":16,"w":15,"d":9,"a":36},{"g":16,"w":15,"d":10,"a":37},{"g":16,"w":15,"d":11,"a":38},{"g":16,"w":15,"d":12,"a":38},{"g":16,"w":15,"d":13,"a":36},{"g":16,"w":15,"d":14,"a":35},{"g":16,"w":15,"d":15,"a":34},{"g":16,"w":15,"d":16,"a":36},{"g":16,"w":15,"d":17,"a":36},{"g":16,"w":15,"d":18,"a":36},{"g":16,"w":15,"d":19,"a":31},{"g":16,"w":15,"d":20,"a":38},
{"g":16,"w":16,"d":2,"a":2.6},{"g":16,"w":16,"d":3,"a":3.6},{"g":16,"w":16,"d":4,"a":6},{"g":16,"w":16,"d":5,"a":10},{"g":16,"w":16,"d":6,"a":15},{"g":16,"w":16,"d":7,"a":25},{"g":16,"w":16,"d":8,"a":28},{"g":16,"w":16,"d":9,"a":33},{"g":16,"w":16,"d":10,"a":33},{"g":16,"w":16,"d":11,"a":35},{"g":16,"w":16,"d":12,"a":36},{"g":16,"w":16,"d":13,"a":35},{"g":16,"w":16,"d":14,"a":36},{"g":16,"w":16,"d":15,"a":32},{"g":16,"w":16,"d":16,"a":36},{"g":16,"w":16,"d":17,"a":36},{"g":16,"w":16,"d":18,"a":39},{"g":16,"w":16,"d":19,"a":34},{"g":16,"w":16,"d":20,"a":40},{"g":16,"w":16,"d":21,"a":30},{"g":16,"w":16,"d":22,"a":33},{"g":16,"w":16,"d":23,"a":36},{"g":16,"w":16,"d":24,"a":38},{"g":16,"w":16,"d":25,"a":38},{"g":16,"w":16,"d":26,"a":31}
]
},
"concat": [
{
  "width": 414, "height": 287,
  "title": {"text": "C. briggsae strain HK104", "anchor": "start", "frame": "group", "fontSize": 15, "fontWeight": "normal", "color": "#000", "offset": 6},
  "data": {"name": "hk"},
  "encoding": {
    "x": {"field": "d", "type": "quantitative", "scale": {"domain": [-0.7, 36.7], "nice": false, "zero": false}, "axis": {"title": "Day", "values": [0,2,4,6,8,10,12,14,16,18,20,22,24,26,28,30]}},
    "y": {"field": "a", "type": "quantitative", "scale": {"domain": [-3.1, 98.1], "nice": false, "zero": false}, "axis": {"title": "Area in microns²", "values": [0,10,20,30,40,50,60,70,80,90], "labelExpr": "datum.value == 0 ? '0e+00' : (datum.value/10) + 'e+04'"}},
    "color": {"field": "g", "type": "nominal", "scale": {"domain": [27, 30, 16], "range": ["#B5807C", "#BB2211", "#2A8BF2"]}, "legend": {"title": "Temperature", "orient": "none", "legendX": -147, "legendY": 289, "symbolType": "stroke", "symbolStrokeWidth": 3, "symbolSize": 225, "symbolOpacity": 1, "rowPadding": 6, "labelOffset": 9, "titlePadding": 7, "labelExpr": "datum.value == 27 ? 'high(27C)' : datum.value == 30 ? 'high(30C)' : 'low(16C)'", "encode": {"symbols": {"update": {"opacity": {"value": 1}, "strokeOpacity": {"value": 1}, "strokeWidth": {"value": 3}}}}}}
  },
  "layer": [
    {"transform": [{"filter": "datum.w > 0"}], "mark": {"type": "line", "strokeWidth": 1, "strokeOpacity": 0.25}, "encoding": {"detail": {"field": "w"}}},
    {"transform": [{"filter": "datum.w > 0"}], "mark": {"type": "point", "filled": true, "size": 18, "fillOpacity": 0.3}, "encoding": {}},
    {"transform": [{"filter": "datum.w == 0"}], "mark": {"type": "line", "strokeWidth": 4}, "encoding": {}}
  ]
},
{
  "width": 414, "height": 287,
  "title": {"text": "C. briggsae strain AF16", "anchor": "start", "frame": "group", "fontSize": 15, "fontWeight": "normal", "color": "#000", "offset": 6},
  "data": {"name": "af"},
  "encoding": {
    "x": {"field": "d", "type": "quantitative", "scale": {"domain": [0.25, 16.75], "nice": false, "zero": false}, "axis": {"title": "Day", "values": [2,4,6,8,10,12,14,16]}},
    "y": {"field": "a", "type": "quantitative", "scale": {"domain": [-1.4, 72.9], "nice": false, "zero": false}, "axis": {"title": "Area in microns²", "values": [0,10,20,30,40,50,60,70], "labelExpr": "datum.value == 0 ? '0e+00' : (datum.value/10) + 'e+04'"}},
    "color": {"field": "g", "type": "nominal", "scale": {"domain": [27, 30, 16], "range": ["#B5807C", "#BB2211", "#2A8BF2"]}}
  },
  "layer": [
    {"transform": [{"filter": "datum.w > 0"}], "mark": {"type": "line", "strokeWidth": 1, "strokeOpacity": 0.25}, "encoding": {"detail": {"field": "w"}}},
    {"transform": [{"filter": "datum.w > 0"}], "mark": {"type": "point", "filled": true, "size": 18, "fillOpacity": 0.3}, "encoding": {}},
    {"transform": [{"filter": "datum.w == 0"}], "mark": {"type": "line", "strokeWidth": 4}, "encoding": {}}
  ]
},
{
  "width": 414, "height": 287,
  "title": {"text": "C. tropicalis", "anchor": "start", "frame": "group", "fontSize": 15, "fontWeight": "normal", "color": "#000", "offset": 6},
  "data": {"name": "tr"},
  "encoding": {
    "x": {"field": "d", "type": "quantitative", "scale": {"domain": [-0.3, 28.3], "nice": false, "zero": false}, "axis": {"title": "Day", "values": [0,2,4,6,8,10,12,14,16,18,20,22,24,26]}},
    "y": {"field": "a", "type": "quantitative", "scale": {"domain": [-2, 86], "nice": false, "zero": false}, "axis": {"title": "Area in microns²", "values": [0,10,20,30,40,50,60,70,80], "labelExpr": "datum.value == 0 ? '0e+00' : (datum.value/10) + 'e+04'"}},
    "color": {"field": "g", "type": "nominal", "scale": {"domain": [27, 30, 16], "range": ["#B5807C", "#BB2211", "#2A8BF2"]}}
  },
  "layer": [
    {"transform": [{"filter": "datum.w > 0"}], "mark": {"type": "line", "strokeWidth": 1, "strokeOpacity": 0.25}, "encoding": {"detail": {"field": "w"}}},
    {"transform": [{"filter": "datum.w > 0"}], "mark": {"type": "point", "filled": true, "size": 18, "fillOpacity": 0.3}, "encoding": {}},
    {"transform": [{"filter": "datum.w == 0"}], "mark": {"type": "line", "strokeWidth": 4}, "encoding": {}}
  ]
}
],
"columns": 2,
"spacing": {"row": 70, "column": 74},
"bounds": "flush",
"resolve": {"scale": {"color": "shared", "x": "independent", "y": "independent"}}
}
